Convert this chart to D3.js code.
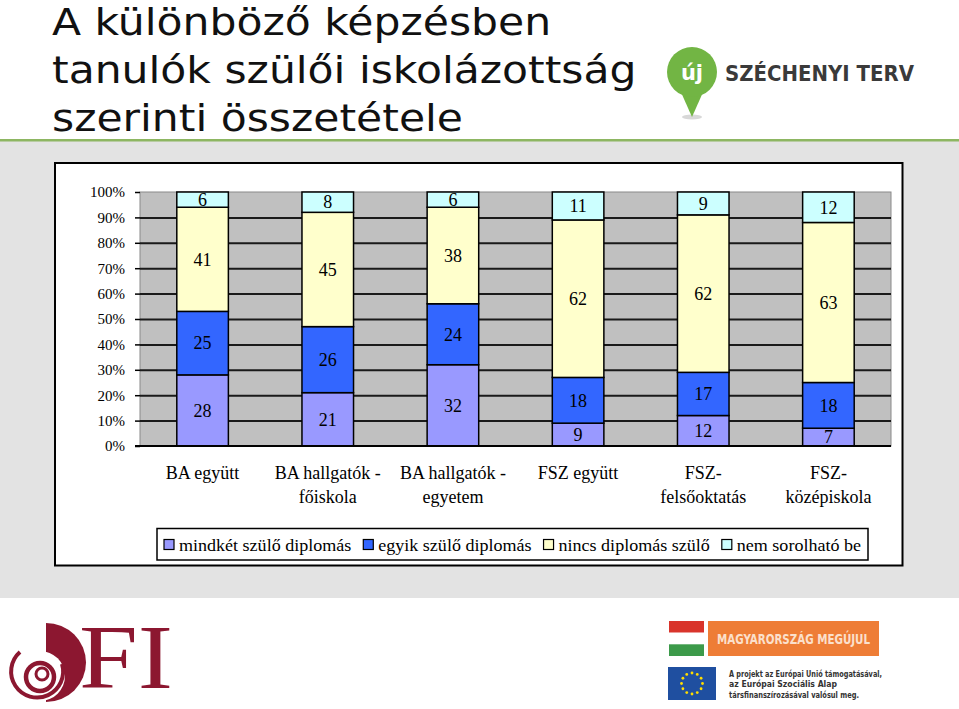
<!DOCTYPE html>
<html>
<head>
<meta charset="utf-8">
<script src="https://cdn.jsdelivr.net/npm/d3@7"></script>
<style>
  html, body { margin: 0; padding: 0; background: #fff; }
  svg { display: block; }
</style>
</head>
<body>
<svg id="chart" width="959" height="709"></svg>
<script>
// ---------- DATA ----------
const titleLines = ["A különböző képzésben", "tanulók szülői iskolázottság", "szerinti összetétele"];
const categories = ["BA együtt", "BA hallgatók - főiskola", "BA hallgatók - egyetem", "FSZ együtt", "FSZ-felsőoktatás", "FSZ-középiskola"];
const categoryLabelLines = [["BA együtt"], ["BA hallgatók -", "főiskola"], ["BA hallgatók -", "egyetem"], ["FSZ együtt"], ["FSZ-", "felsőoktatás"], ["FSZ-", "középiskola"]];
const seriesNames = ["mindkét szülő diplomás", "egyik szülő diplomás", "nincs diplomás szülő", "nem sorolható be"];
const mindketSzuloDiplomas = [28, 21, 32, 9, 12, 7];
const egyikSzuloDiplomas   = [25, 26, 24, 18, 17, 18];
const nincsDiplomasSzulo   = [41, 45, 38, 62, 62, 63];
const nemSorolhatoBe       = [6, 8, 6, 11, 9, 12];
const yTickValues = [0, 0.1, 0.2, 0.3, 0.4, 0.5, 0.6, 0.7, 0.8, 0.9, 1.0];
const seriesColors = ["#9999ff", "#3366ff", "#ffffcc", "#ccffff"];

// ---------- SETUP ----------
const svg = d3.select("#chart");
const W = 959, H = 709;

// background bands
svg.append("rect").attr("x", 0).attr("y", 0).attr("width", W).attr("height", H).attr("fill", "#ffffff");
svg.append("rect").attr("x", 0).attr("y", 141).attr("width", W).attr("height", 457).attr("fill", "#e3e3e3");
svg.append("rect").attr("x", 0).attr("y", 139).attr("width", W).attr("height", 2.5).attr("fill", "#8db662");

// title (horizontally stretched like the reference)
const titleG = svg.append("g");
titleG.selectAll("text").data(titleLines).join("text")
  .attr("x", 52).attr("y", (d, i) => 35 + i * 48)
  .attr("font-family", "DejaVu Sans, Verdana, sans-serif")
  .attr("font-size", 38).attr("fill", "#111")
  .text(d => d)
  .each(function () {
    const len = this.getComputedTextLength();
    d3.select(this).attr("textLength", len * 1.118).attr("lengthAdjust", "spacingAndGlyphs");
  });

// chart box
svg.append("rect").attr("x", 55).attr("y", 163).attr("width", 847.5).attr("height", 402.5)
  .attr("fill", "#ffffff").attr("stroke", "#000").attr("stroke-width", 2);

// ---------- SCALES ----------
const plot = { left: 140, right: 891, top: 192, bottom: 446 };
const x = d3.scaleBand().domain(categories).range([plot.left, plot.right]).paddingInner(0.588).paddingOuter(0.294);
const y = d3.scaleLinear().domain([0, 1]).range([plot.bottom, plot.top]);

// plot background
svg.append("rect").attr("x", plot.left).attr("y", plot.top)
  .attr("width", plot.right - plot.left).attr("height", plot.bottom - plot.top)
  .attr("fill", "#c0c0c0").attr("stroke", "#8a8a8a").attr("stroke-width", 1);

// gridlines
const grid = svg.append("g").attr("transform", `translate(${plot.left},0)`)
  .call(d3.axisLeft(y).tickValues(yTickValues.filter(v => v > 0 && v < 1)).tickSize(-(plot.right - plot.left)).tickFormat(""));
grid.select(".domain").remove();
grid.selectAll("line").attr("stroke", "#1a1a1a").attr("stroke-width", 2);

// y axis
const yAxis = svg.append("g").attr("transform", `translate(${plot.left},0)`)
  .call(d3.axisLeft(y).tickValues(yTickValues).tickSize(5).tickPadding(10).tickFormat(d3.format(".0%")));
yAxis.select(".domain").remove();
yAxis.selectAll("line").attr("stroke", "#000").attr("stroke-width", 1.5);
yAxis.selectAll("text").attr("font-family", "Liberation Serif, Times New Roman, serif").attr("font-size", 15).attr("fill", "#000");

// ---------- STACK ----------
const rows = categories.map((c, i) => ({
  cat: c,
  s0: mindketSzuloDiplomas[i] / 100,
  s1: egyikSzuloDiplomas[i] / 100,
  s2: nincsDiplomasSzulo[i] / 100,
  s3: nemSorolhatoBe[i] / 100
}));
const keys = ["s0", "s1", "s2", "s3"];
const rawSeries = [mindketSzuloDiplomas, egyikSzuloDiplomas, nincsDiplomasSzulo, nemSorolhatoBe];
const stacked = d3.stack().keys(keys)(rows);

const layers = svg.append("g").selectAll("g").data(stacked).join("g")
  .attr("fill", (d, i) => seriesColors[i]);
layers.selectAll("rect").data(d => d).join("rect")
  .attr("x", d => x(d.data.cat))
  .attr("y", d => y(d[1]))
  .attr("width", x.bandwidth())
  .attr("height", d => y(d[0]) - y(d[1]))
  .attr("stroke", "#000").attr("stroke-width", 1.5);

// bottom axis line
svg.append("line").attr("x1", plot.left - 5).attr("x2", plot.right)
  .attr("y1", plot.bottom).attr("y2", plot.bottom)
  .attr("stroke", "#000").attr("stroke-width", 2);

// value labels
stacked.forEach((layer, li) => {
  svg.append("g").selectAll("text").data(layer).join("text")
    .attr("x", d => x(d.data.cat) + x.bandwidth() / 2)
    .attr("y", d => (y(d[0]) + y(d[1])) / 2)
    .attr("dy", "0.35em")
    .attr("text-anchor", "middle")
    .attr("font-family", "Liberation Serif, Times New Roman, serif")
    .attr("font-size", 18).attr("fill", "#000")
    .text((d, i) => rawSeries[li][i]);
});

// x axis labels
const xAxis = svg.append("g").attr("transform", `translate(0,${plot.bottom})`)
  .call(d3.axisBottom(x).tickSize(0).tickFormat(""));
xAxis.select(".domain").remove();
xAxis.selectAll(".tick").each(function (d) {
  const idx = categories.indexOf(d);
  const t = d3.select(this).append("text")
    .attr("text-anchor", "middle")
    .attr("font-family", "Liberation Serif, Times New Roman, serif")
    .attr("font-size", 18).attr("fill", "#000");
  categoryLabelLines[idx].forEach((ln, k) => {
    t.append("tspan").attr("x", 0).attr("y", 33 + k * 23.5).text(ln);
  });
});

// ---------- LEGEND ----------
svg.append("rect").attr("x", 157).attr("y", 528.5).attr("width", 711).attr("height", 31.5)
  .attr("fill", "#fff").attr("stroke", "#000").attr("stroke-width", 1.5);
const legend = svg.append("g");
let lx = 164;
const targetRight = 861;
const items = seriesNames.map((name, i) => ({ name, color: seriesColors[i] }));
const tmp = [];
items.forEach(it => {
  const t = legend.append("text").attr("font-family", "Liberation Serif, Times New Roman, serif")
    .attr("font-size", 17).attr("y", 550.5).attr("fill", "#000").text(it.name);
  tmp.push(t);
});
const lens = tmp.map(t => t.node().getComputedTextLength());
const fixed = items.length * 15 + (items.length - 1) * 12;
const scaleF = (targetRight - lx - fixed) / d3.sum(lens);
items.forEach((it, i) => {
  legend.append("rect").attr("x", lx).attr("y", 539.5).attr("width", 10).attr("height", 10)
    .attr("fill", it.color).attr("stroke", "#000").attr("stroke-width", 1.2);
  const len = lens[i] * scaleF;
  tmp[i].attr("x", lx + 15).attr("textLength", len).attr("lengthAdjust", "spacingAndGlyphs");
  lx += 15 + len + 12;
});

// ---------- LOGOS ----------
// Széchenyi Terv
const sz = svg.append("g");
sz.append("ellipse").attr("cx", 692).attr("cy", 117).attr("rx", 10).attr("ry", 2.5).attr("fill", "#d8d8d8");
sz.append("path").attr("d", "M680,90 L692,117 L704,90 Z").attr("fill", "#72b544");
sz.append("circle").attr("cx", 692).attr("cy", 72).attr("r", 25).attr("fill", "#72b544");
sz.append("text").attr("x", 692).attr("y", 80).attr("text-anchor", "middle")
  .attr("font-family", "DejaVu Sans, sans-serif").attr("font-weight", "bold").attr("font-size", 21)
  .attr("fill", "#fff").text("új");
sz.append("text").attr("x", 725).attr("y", 80.5)
  .attr("font-family", "DejaVu Sans Condensed, DejaVu Sans, sans-serif").attr("font-weight", "bold").attr("font-size", 22)
  .attr("fill", "#3a3a3a").attr("textLength", 189).attr("lengthAdjust", "spacingAndGlyphs").text("SZÉCHENYI TERV");

// OFI
const ofi = svg.append("g").attr("fill", "#8c1730");
ofi.append("path").attr("d", "M46,623 A40,39.5 0 0 1 46,702 Z");
ofi.append("circle").attr("cx", 40).attr("cy", 676).attr("r", 25).attr("fill", "#fff");
ofi.append("path").attr("d", "M20,652 A26,26 0 1 0 62,664").attr("fill", "none").attr("stroke", "#8c1730").attr("stroke-width", 4);
ofi.append("circle").attr("cx", 40).attr("cy", 677).attr("r", 14).attr("fill", "none").attr("stroke", "#8c1730").attr("stroke-width", 4.5);
ofi.append("circle").attr("cx", 42).attr("cy", 674).attr("r", 6).attr("fill", "none").attr("stroke", "#8c1730").attr("stroke-width", 3);
ofi.append("text").attr("x", 79).attr("y", 688)
  .attr("font-family", "Liberation Serif, Times New Roman, serif").attr("font-size", 92)
  .attr("textLength", 94).attr("lengthAdjust", "spacingAndGlyphs").text("FI");

// Magyarország megújul
const mm = svg.append("g");
mm.append("rect").attr("x", 669).attr("y", 621).attr("width", 35).attr("height", 11.7).attr("fill", "#d9342b");
mm.append("rect").attr("x", 669).attr("y", 632.7).attr("width", 35).attr("height", 11.6).attr("fill", "#ffffff");
mm.append("rect").attr("x", 669).attr("y", 644.3).attr("width", 35).attr("height", 11.7).attr("fill", "#3c9a4a");
mm.append("rect").attr("x", 708).attr("y", 621).attr("width", 171).attr("height", 35).attr("fill", "#ee7d36");
mm.append("text").attr("x", 717).attr("y", 643.5)
  .attr("font-family", "DejaVu Sans Condensed, DejaVu Sans, sans-serif").attr("font-weight", "bold").attr("font-size", 14)
  .attr("fill", "#fbe0cc").attr("textLength", 153).attr("lengthAdjust", "spacingAndGlyphs").text("MAGYARORSZÁG MEGÚJUL");

// EU flag
mm.append("rect").attr("x", 668).attr("y", 667).attr("width", 48).attr("height", 33).attr("fill", "#1f4fa0");
d3.range(12).forEach(k => {
  const a = k / 12 * 2 * Math.PI;
  mm.append("circle").attr("cx", 692 + 10.5 * Math.cos(a)).attr("cy", 683.5 + 10.5 * Math.sin(a)).attr("r", 1.4).attr("fill", "#ffdd00");
});
const euLines = ["A projekt az Európai Unió támogatásával,", "az Európai Szociális Alap", "társfinanszírozásával valósul meg."];
const euLens = [153, 108, 130];
mm.append("g").selectAll("text").data(euLines).join("text")
  .attr("x", 729).attr("y", (d, i) => 676.5 + i * 10.5)
  .attr("font-family", "DejaVu Sans Condensed, DejaVu Sans, sans-serif").attr("font-weight", "bold").attr("font-size", 9.5)
  .attr("fill", "#333").attr("textLength", (d, i) => euLens[i]).attr("lengthAdjust", "spacingAndGlyphs")
  .text(d => d);
</script>
</body>
</html>
